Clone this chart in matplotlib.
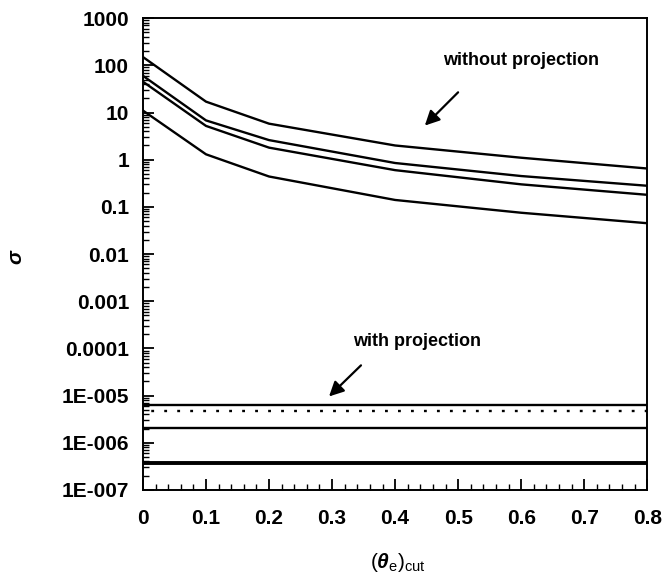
import numpy as np
import matplotlib.pyplot as plt
from matplotlib.ticker import FixedLocator, MultipleLocator, NullFormatter, LogLocator

plt.rcParams['font.family'] = ['Liberation Sans', 'DejaVu Sans']
plt.rcParams['mathtext.fontset'] = 'custom'
plt.rcParams['mathtext.rm'] = 'Liberation Sans'
plt.rcParams['mathtext.it'] = 'Liberation Sans:italic:bold'
plt.rcParams['mathtext.bf'] = 'Liberation Sans:bold'

# angulos de corte
theta_cut = [0, 0.1, 0.2, 0.4, 0.6, 0.8]

# sin proyeccion
sin_proy_1 = [150, 17, 5.8, 2.0, 1.1, 0.65]
sin_proy_2 = [60, 6.8, 2.6, 0.85, 0.45, 0.28]
sin_proy_3 = [45, 5.2, 1.8, 0.6, 0.3, 0.18]
sin_proy_4 = [11, 1.3, 0.44, 0.14, 0.075, 0.045]

# con proyeccion (constantes)
con_proy_1 = [6.2e-6] * 6
con_proy_dot = [4.6e-6] * 6
con_proy_2 = [2.1e-6] * 6
con_proy_3 = [3.8e-7] * 6

ytick_vals = [1e3, 1e2, 1e1, 1, 0.1, 0.01, 0.001, 0.0001, 1e-5, 1e-6, 1e-7]
ytick_labels = ['1000', '100', '10', '1', '0.1', '0.01', '0.001', '0.0001',
                '1E-005', '1E-006', '1E-007']
xtick_vals = [0, 0.1, 0.2, 0.3, 0.4, 0.5, 0.6, 0.7, 0.8]

fig = plt.figure(figsize=(6.68, 5.86), dpi=100)
ax = fig.add_axes([0.214, 0.164, 0.755, 0.805])

for serie in [sin_proy_1, sin_proy_2, sin_proy_3, sin_proy_4]:
    ax.plot(theta_cut, serie, color='black', lw=1.7)

ax.plot(theta_cut, con_proy_1, color='black', lw=1.7)
ax.plot(theta_cut, con_proy_dot, color='black', lw=1.7, linestyle=(2, (1.2, 4.3)))
ax.plot(theta_cut, con_proy_2, color='black', lw=1.7)
ax.plot(theta_cut, con_proy_3, color='black', lw=2.8)

ax.set_yscale('log')
ax.set_ylim(1e-7, 1e3)
ax.set_xlim(0, 0.8)

ax.yaxis.set_major_locator(FixedLocator(ytick_vals))
ax.yaxis.set_minor_locator(LogLocator(base=10, subs=np.arange(2, 10), numticks=100))
ax.set_yticklabels(ytick_labels)
ax.yaxis.set_minor_formatter(NullFormatter())
ax.set_xticks(xtick_vals)
ax.set_xticklabels(['0', '0.1', '0.2', '0.3', '0.4', '0.5', '0.6', '0.7', '0.8'])
ax.xaxis.set_minor_locator(MultipleLocator(0.02))

ax.tick_params(which='both', direction='in', labelsize=15, right=False, top=False)
ax.tick_params(which='major', length=8, width=1.3)
ax.tick_params(which='minor', length=4, width=1.0)
ax.tick_params(axis='y', pad=10)
ax.tick_params(axis='x', pad=14)
for lab in ax.get_xticklabels() + ax.get_yticklabels():
    lab.set_fontweight('bold')
for s in ax.spines.values():
    s.set_linewidth(1.4)

# anotaciones
ax.annotate('', xy=(0.444, 4.8), xytext=(0.503, 29.5),
            arrowprops=dict(arrowstyle='-|>', color='black', lw=1.6, mutation_scale=22))
ax.text(0.60, 125, 'without projection', ha='center', va='center', fontsize=13,
        fontweight='bold')
ax.annotate('', xy=(0.292, 8.7e-6), xytext=(0.349, 4.8e-5),
            arrowprops=dict(arrowstyle='-|>', color='black', lw=1.6, mutation_scale=22))
ax.text(0.435, 1.41e-4, 'with projection', ha='center', va='center', fontsize=13,
        fontweight='bold')

fig.text(17 / 668, 1 - 257 / 586, r'$\sigma$', rotation=90, ha='center', va='center',
         fontsize=15)
fig.text(398 / 668, 1 - 562 / 586, r'$(\theta_{\rm e})_{\rm cut}$', ha='center',
         va='center', fontsize=15, fontweight='bold')

fig.savefig('out.png', dpi=100)
